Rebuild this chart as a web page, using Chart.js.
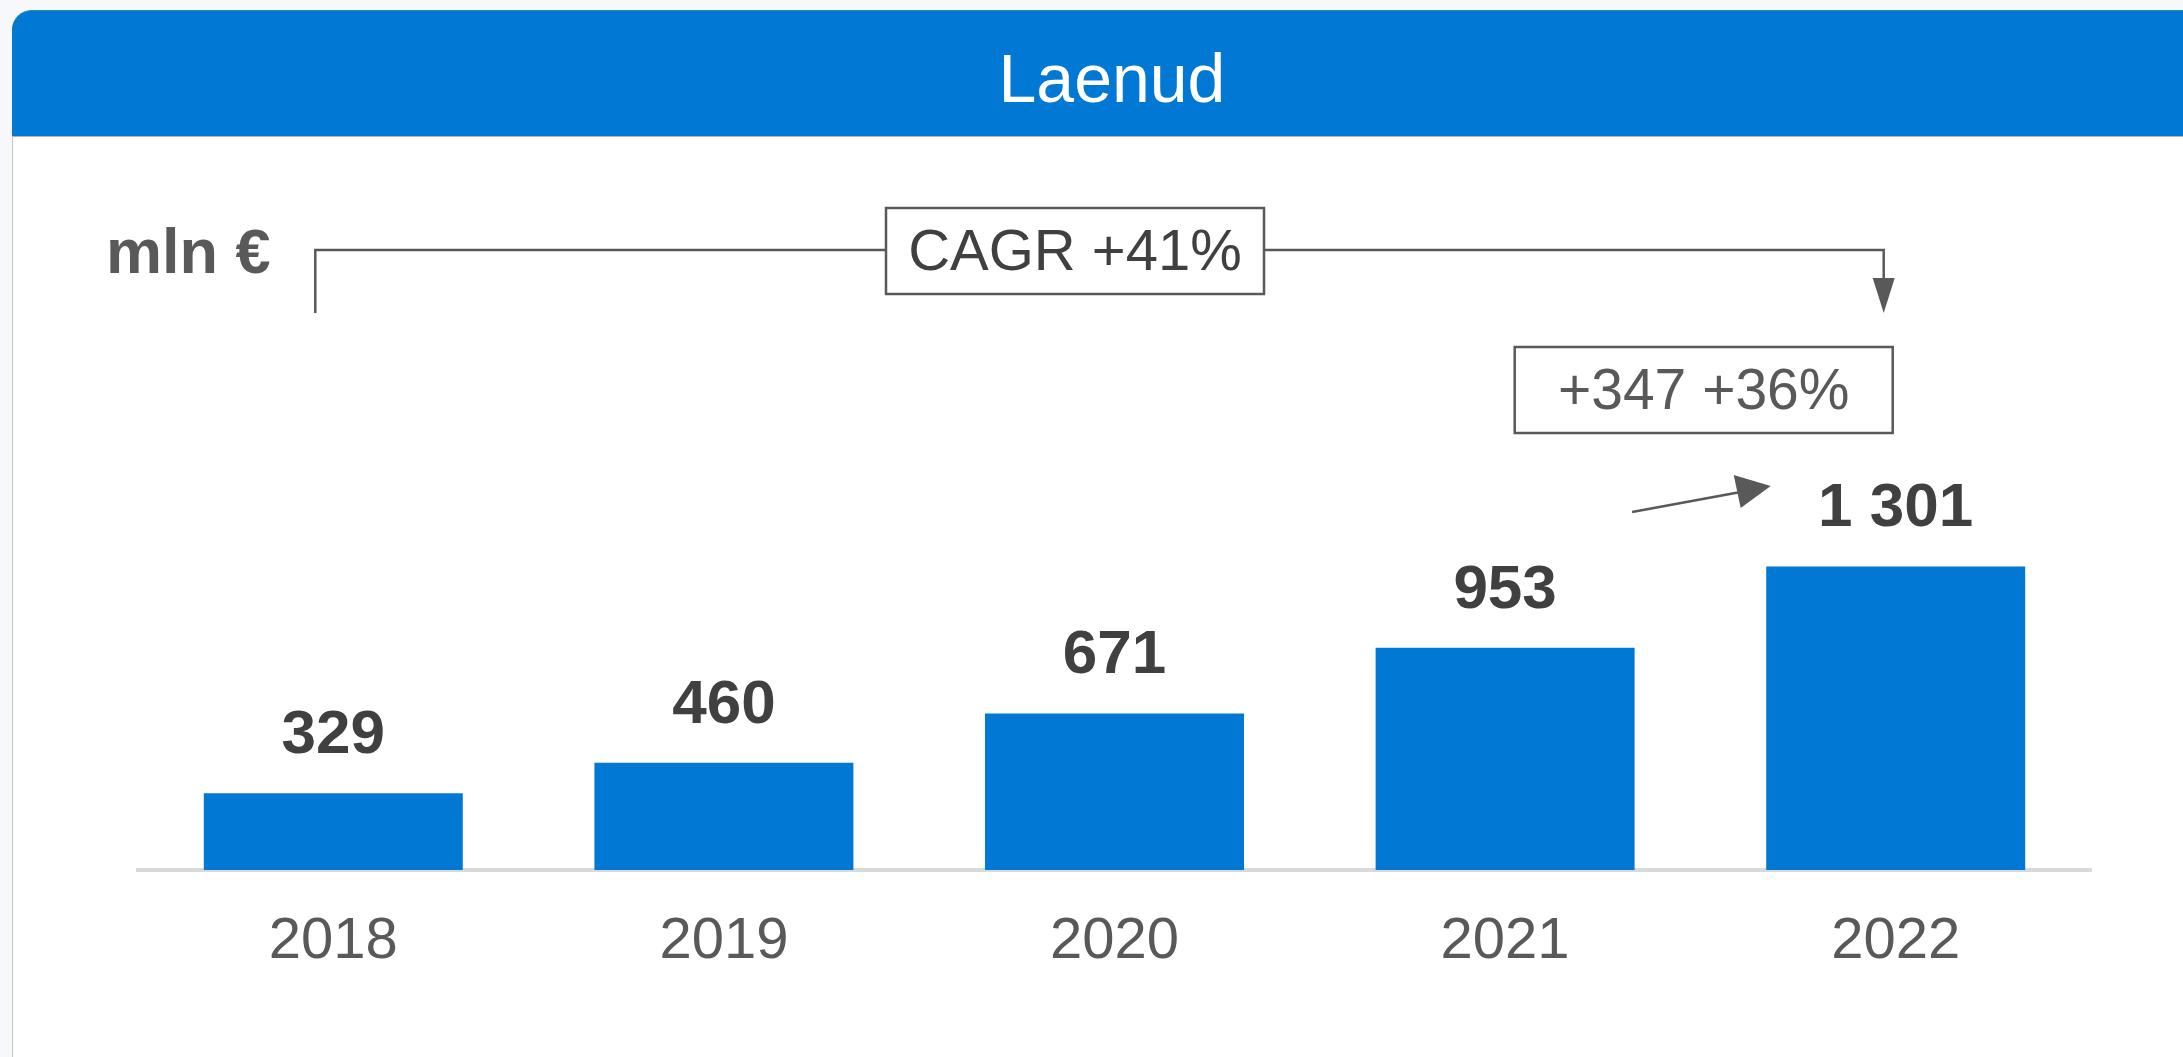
<!DOCTYPE html>
<html>
<head>
<meta charset="utf-8">
<script src="https://cdn.jsdelivr.net/npm/chart.js@4/dist/chart.umd.min.js"></script>
<style>
  html,body{margin:0;padding:0;overflow:hidden;background:#f7f8fc;}
  #card{position:absolute;left:12px;top:10px;width:2200px;height:1100px;background:#fff;border-left:1px solid #c4c4c4;border-top-left-radius:20px;}
  #head{position:absolute;left:12px;top:10px;width:2200px;height:125px;background:#0078d4;border-top:1px solid #1b8fb0;border-bottom:1px solid #b4b4b4;border-top-left-radius:20px;
    color:#fff;font:68px "Liberation Sans",Arial,sans-serif;text-align:center;line-height:134px;z-index:2;}
  #chart{position:absolute;left:0;top:0;z-index:1;}
</style>
</head>
<body>
<div id="card"></div>
<div id="head">Laenud</div>
<canvas id="chart" width="2183" height="1057"></canvas>
<script>
// data
const years = ["2018","2019","2020","2021","2022"];
const loans = [329, 460, 671, 953, 1301];
const unitLabel = "mln €";
const cagrText = "CAGR +41%";
const lastChangeText = "+347 +36%";

const FONT = '"Liberation Sans", Arial, sans-serif';
const GREY = "#595959";

function fmt(v){
  return String(v).replace(/\B(?=(\d{3})+(?!\d))/g, " ");
}

// value labels on top of bars
const valueLabels = {
  id:"valueLabels",
  afterDatasetsDraw(chart){
    const ctx = chart.ctx;
    ctx.save();
    ctx.font = "bold 62px " + FONT;
    ctx.fillStyle = "#404040";
    ctx.textAlign = "center";
    ctx.textBaseline = "alphabetic";
    chart.getDatasetMeta(0).data.forEach((bar,i)=>{
      ctx.fillText(fmt(loans[i]), bar.x, bar.y - 40);
    });
    ctx.restore();
  }
};

// unit, CAGR bracket and change arrow
const notes = {
  id:"notes",
  afterDraw(chart){
    const ctx = chart.ctx;
    const x = chart.scales.x;
    const first = x.getPixelForValue(0) - 18;
    const last = x.getPixelForValue(years.length-1) - 12;
    const prev = x.getPixelForValue(years.length-2);
    const lineY = 250;
    ctx.save();
    ctx.strokeStyle = GREY;
    ctx.fillStyle = GREY;
    ctx.lineWidth = 2.5;

    ctx.font = "bold 63px " + FONT;
    ctx.textAlign = "left";
    ctx.textBaseline = "alphabetic";
    ctx.fillText(unitLabel, 106, 273);

    // bracket
    ctx.beginPath();
    ctx.moveTo(first, 313);
    ctx.lineTo(first, lineY);
    ctx.lineTo(last, lineY);
    ctx.lineTo(last, 282);
    ctx.stroke();
    ctx.beginPath();
    ctx.moveTo(last-11, 278);
    ctx.lineTo(last+11, 278);
    ctx.lineTo(last, 313);
    ctx.closePath();
    ctx.fill();

    // boxes
    function box(cx, top, w, h, txt, size, color){
      ctx.fillStyle = "#fff";
      ctx.fillRect(cx - w/2, top, w, h);
      ctx.strokeStyle = GREY;
      ctx.strokeRect(cx - w/2, top, w, h);
      ctx.fillStyle = color;
      ctx.font = size + "px " + FONT;
      ctx.textAlign = "center";
      ctx.textBaseline = "middle";
      ctx.fillText(txt, cx, top + h/2 + 3);
    }
    box(1075, 208, 378, 86, cagrText, 58, "#404040");
    box(last - 180, 347, 378, 86, lastChangeText, 57, GREY);

    // diagonal arrow between last two bars
    const ax0 = prev + 127, ay0 = 512;
    const tipX = last - 113, tipY = 486;
    ctx.strokeStyle = GREY;
    ctx.fillStyle = GREY;
    ctx.beginPath();
    ctx.moveTo(ax0, ay0);
    ctx.lineTo(tipX - 30, tipY + 6);
    ctx.stroke();
    ctx.beginPath();
    ctx.moveTo(tipX - 37, tipY - 11);
    ctx.lineTo(tipX, tipY);
    ctx.lineTo(tipX - 30, tipY + 22);
    ctx.closePath();
    ctx.fill();
    ctx.restore();
  }
};

new Chart(document.getElementById("chart"), {
  type:"bar",
  data:{
    labels: years,
    datasets:[{
      data: loans,
      backgroundColor:"#0078d4",
      borderWidth:0,
      barPercentage:0.663,
      categoryPercentage:1
    }]
  },
  options:{
    responsive:false,
    devicePixelRatio:1,
    animation:false,
    layout:{padding:{left:138, right:92, top:520, bottom:0}},
    plugins:{legend:{display:false}, tooltip:{enabled:false}},
    scales:{
      x:{
        offset:true,
        grid:{display:false},
        border:{display:true, color:"#d9d9d9", width:4},
        ticks:{color:GREY, font:{family:FONT, size:58}, padding:29},
        afterFit(s){ s.height = 187; }
      },
      y:{display:false, min:0, max:1500}
    }
  },
  plugins:[valueLabels, notes]
});
</script>
</body>
</html>
